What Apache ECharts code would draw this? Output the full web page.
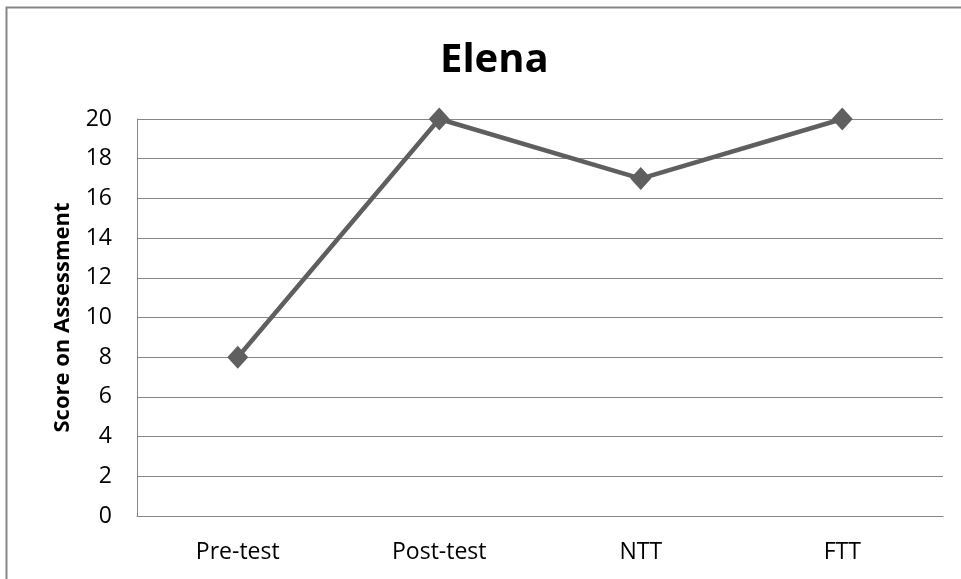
<!DOCTYPE html>
<html>
<head>
<meta charset="utf-8">
<script src="https://cdn.jsdelivr.net/npm/echarts@6/dist/echarts.min.js"></script>
<style>html,body{margin:0;padding:0;background:#fff}#c{width:961px;height:579px}</style>
</head>
<body>
<div id="c"></div>
<script>
const categories = ['Pre-test', 'Post-test', 'NTT', 'FTT'];
const scores = [8, 20, 17, 20];
const titleText = 'Elena';
const yAxisTitle = 'Score on Assessment';

const chart = echarts.init(document.getElementById('c'));
const font = '"Open Sans", "Noto Sans", sans-serif';
chart.setOption({
  animation: false,
  backgroundColor: '#fff',
  graphic: [{
    type: 'rect',
    shape: { x: 6.5, y: 7.5, width: 1200, height: 1200 },
    style: { fill: 'none', stroke: '#878787', lineWidth: 2 },
    silent: true
  }],
  title: {
    text: titleText,
    left: 435,
    top: 36,
    textStyle: { fontFamily: font, fontWeight: 'bold', fontSize: 40, color: '#000' }
  },
  grid: { left: 137, top: 119, right: 18, bottom: 63 },
  xAxis: {
    type: 'category',
    data: categories,
    axisLine: { lineStyle: { color: '#868686', width: 1 } },
    axisTick: { show: false },
    axisLabel: { fontFamily: font, fontSize: 23, color: '#000', margin: 25 }
  },
  yAxis: {
    type: 'value',
    min: 0, max: 20, interval: 2,
    name: yAxisTitle,
    nameLocation: 'middle',
    nameGap: 63,
    nameTextStyle: { fontFamily: font, fontWeight: 'bold', fontSize: 22, color: '#000' },
    axisLine: { show: true, lineStyle: { color: '#868686', width: 1 } },
    axisTick: { show: false },
    axisLabel: { fontFamily: font, fontSize: 23, color: '#000', margin: 25 },
    splitLine: { lineStyle: { color: '#868686', width: 1 } }
  },
  series: [{
    type: 'line',
    data: scores,
    symbol: 'diamond',
    symbolSize: [21, 23],
    lineStyle: { color: '#5f5f5f', width: 4.5 },
    itemStyle: { color: '#5f5f5f' }
  }]
});
</script>
</body>
</html>
